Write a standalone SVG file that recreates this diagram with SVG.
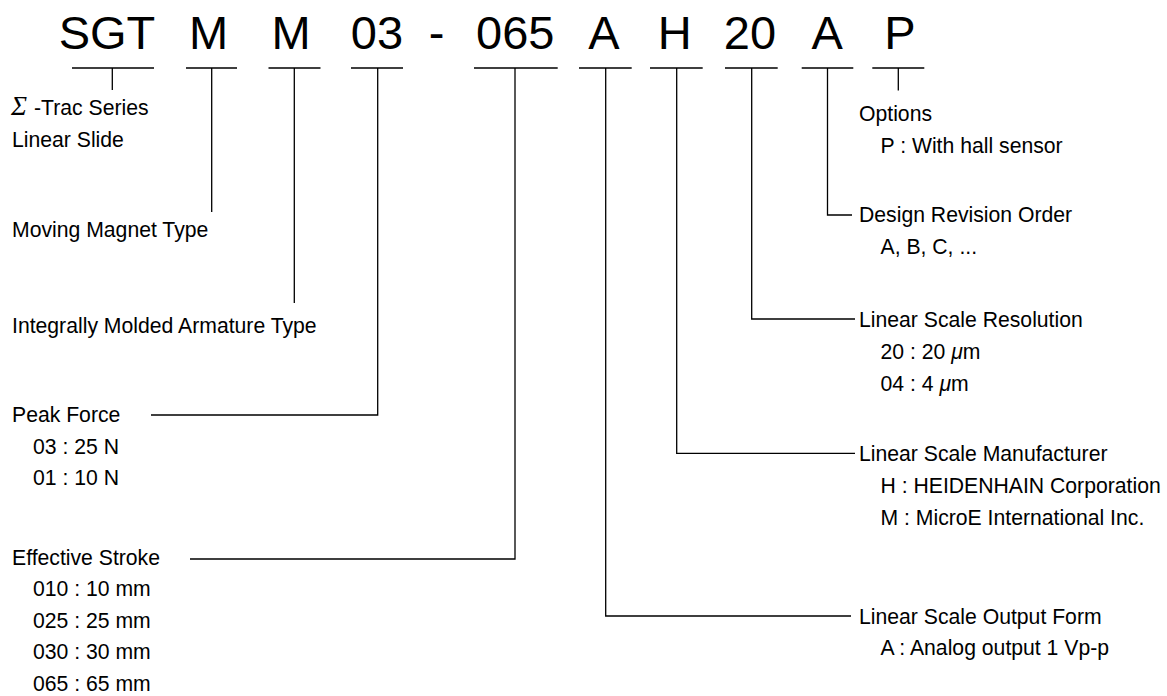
<svg xmlns="http://www.w3.org/2000/svg" width="1167" height="696" viewBox="0 0 1167 696">
<style>
.code{font-family:"Liberation Sans",Arial,sans-serif;font-size:47px;fill:#000;text-anchor:middle}
.lbl{font-family:"Liberation Sans",Arial,sans-serif;font-size:21.2px;fill:#000}
.it{font-style:italic}
.sig{font-family:"Liberation Serif","Times New Roman",serif;font-style:italic;font-size:27px}
.ln{fill:none;stroke:#000;stroke-width:1.3}
</style>
<rect width="1167" height="696" fill="#fff"/>
<g id="code-sgt"><text class="code" x="107" y="49">SGT</text></g>
<g id="code-m1"><text class="code" x="208.5" y="49">M</text></g>
<g id="code-m2"><text class="code" x="291" y="49">M</text></g>
<g id="code-03"><text class="code" x="377" y="49">03</text></g>
<g id="code-dash"><text class="code" x="436.7" y="49">-</text></g>
<g id="code-065"><text class="code" x="515.3" y="49">065</text></g>
<g id="code-a1"><text class="code" x="604" y="49">A</text></g>
<g id="code-h"><text class="code" x="674.7" y="49">H</text></g>
<g id="code-20"><text class="code" x="750" y="49">20</text></g>
<g id="code-a2"><text class="code" x="827.3" y="49">A</text></g>
<g id="code-p"><text class="code" x="900" y="49">P</text></g>

<g id="connectors">
<path class="ln" d="M72 68H154M112.3 68V90"/>
<path class="ln" d="M186 68H237M211.7 68V212"/>
<path class="ln" d="M268.5 68H320.5M294.3 68V303"/>
<path class="ln" d="M351 68H403M377.7 68V415H151"/>
<path class="ln" d="M474 68H557.7M515 68V559H190"/>
<path class="ln" d="M579 68H631.7M605.7 68V616H851"/>
<path class="ln" d="M650 68H702.7M676.7 68V453.3H855"/>
<path class="ln" d="M725 68H777.7M751.7 68V319H855"/>
<path class="ln" d="M801.7 68H853.3M827.5 68V215H852"/>
<path class="ln" d="M872.3 68H924.3M898.3 68V90.5"/>
</g>

<g id="label-series">
<text class="lbl" x="11" y="115"><tspan class="sig">Σ </tspan><tspan x="34">-Trac Series</tspan></text>
<text class="lbl" x="12" y="146.5">Linear Slide</text>
</g>
<g id="label-moving"><text class="lbl" x="12" y="237">Moving Magnet Type</text></g>
<g id="label-armature"><text class="lbl" x="12" y="332.5">Integrally Molded Armature Type</text></g>
<g id="label-force">
<text class="lbl" x="12" y="422">Peak Force</text>
<text class="lbl" x="33" y="453.5">03 : 25 N</text>
<text class="lbl" x="33" y="485">01 : 10 N</text>
</g>
<g id="label-stroke">
<text class="lbl" x="12" y="564.5">Effective Stroke</text>
<text class="lbl" x="33" y="596">010 : 10 mm</text>
<text class="lbl" x="33" y="627.7">025 : 25 mm</text>
<text class="lbl" x="33" y="659.3">030 : 30 mm</text>
<text class="lbl" x="33" y="690.7">065 : 65 mm</text>
</g>
<g id="label-options">
<text class="lbl" x="859" y="121">Options</text>
<text class="lbl" x="880.5" y="152.5">P : With hall sensor</text>
</g>
<g id="label-revision">
<text class="lbl" x="859" y="222">Design Revision Order</text>
<text class="lbl" x="880.5" y="253.5">A, B, C, ...</text>
</g>
<g id="label-resolution">
<text class="lbl" x="859" y="326.7">Linear Scale Resolution</text>
<text class="lbl" x="880.5" y="359">20 : 20 <tspan class="it">μ</tspan>m</text>
<text class="lbl" x="880.5" y="390.7">04 : 4 <tspan class="it">μ</tspan>m</text>
</g>
<g id="label-manufacturer">
<text class="lbl" x="859" y="461.3">Linear Scale Manufacturer</text>
<text class="lbl" x="880.5" y="493">H : HEIDENHAIN Corporation</text>
<text class="lbl" x="880.5" y="524.5">M : MicroE International Inc.</text>
</g>
<g id="label-output">
<text class="lbl" x="859" y="623.5">Linear Scale Output Form</text>
<text class="lbl" x="880.5" y="655">A : Analog output 1 Vp-p</text>
</g>
</svg>
